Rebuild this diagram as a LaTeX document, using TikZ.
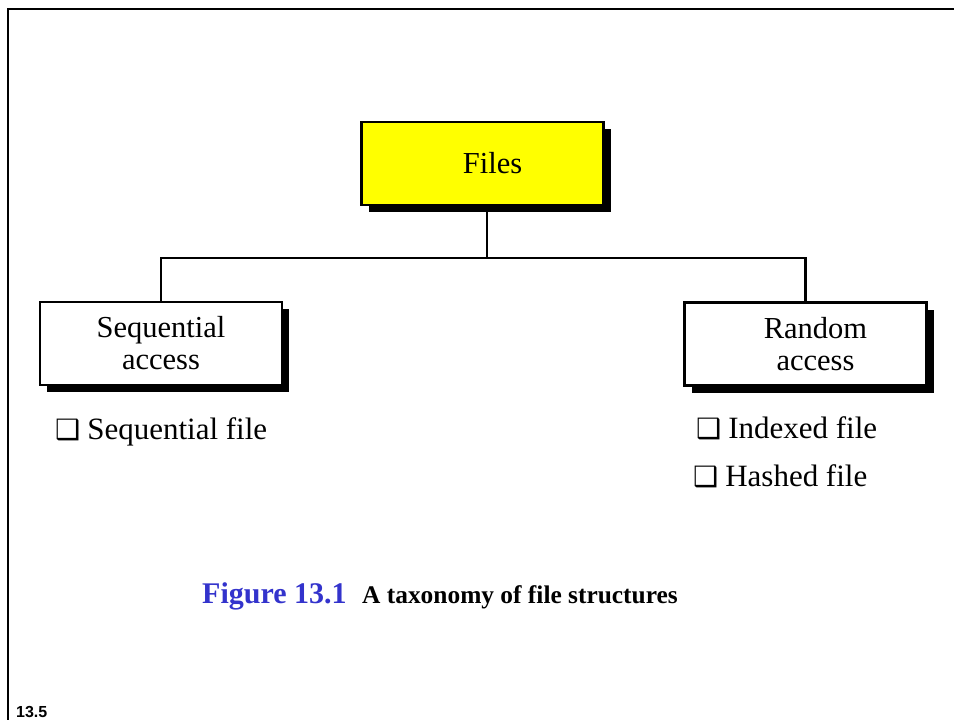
\documentclass[tikz,border=0pt]{standalone}
\usepackage{fontspec}
\setmainfont{Liberation Serif}
\newfontfamily\dejavu{DejaVu Sans}
\newfontfamily\arialbold{Liberation Sans}
\usetikzlibrary{shadows}
\definecolor{figblue}{RGB}{51,51,204}
\definecolor{fileyellow}{RGB}{255,255,0}
\newcommand{\chk}{{\dejavu\fontsize{28}{28}\selectfont ❑}\hspace{7pt}}
\begin{document}
\begin{tikzpicture}[x=1pt,y=-1pt,
  box/.style={draw=black, line width=2.6pt, fill=white, minimum width=242pt,
    minimum height=83pt, inner sep=0pt, align=center,
    font=\fontsize{30.5}{32}\selectfont,
    drop shadow={shadow xshift=7pt, shadow yshift=-7pt, opacity=1, fill=black}},
  conn/.style={draw=black, line width=2.6pt},
  item/.style={anchor=base west, inner sep=0pt, font=\fontsize{31}{32}\selectfont},
  frame/.style={draw=black, line width=2.6pt}]
\useasboundingbox (0,0) rectangle (954,720);
% frame
\coordinate (ftop) at (954,9);
\coordinate (fcorner) at (8,9);
\coordinate (fbot) at (8,720);
\draw[frame] (ftop) -- (fcorner) -- (fbot);
% boxes
\node[box, fill=fileyellow] (files) at (482.5,163.5) {\hspace*{20pt}Files};
\node[box] (seq) at (161,343.5) {Sequential\\access};
\node[box] (rnd) at (805.5,344) {\hspace*{20pt}Random\\\hspace*{20pt}access};
% connectors
\coordinate (bus) at (487,258);
\draw[conn] (seq.north) |- (bus) -| (rnd.north);
\draw[conn] (files.south -| bus) -- (bus);
% list items
\node[item] (seqf) at (55,439) {\chk Sequential file};
\node[item] (idxf) at (696,438) {\chk Indexed file};
\node[item] (hshf) at (693,486) {\chk Hashed file};
% caption
\node[anchor=base west, inner sep=0pt, text=figblue, font=\bfseries\fontsize{30}{32}\selectfont] (figno) at (202,603) {Figure 13.1};
\node[anchor=base west, inner sep=0pt, font=\bfseries\fontsize{25.4}{28}\selectfont] (figtitle) at (362,603) {A taxonomy of file structures};
% page number
\node[anchor=base west, inner sep=0pt, font=\arialbold\bfseries\fontsize{16}{18}\selectfont] (pgno) at (16,717) {13.5};
\end{tikzpicture}
\end{document}
